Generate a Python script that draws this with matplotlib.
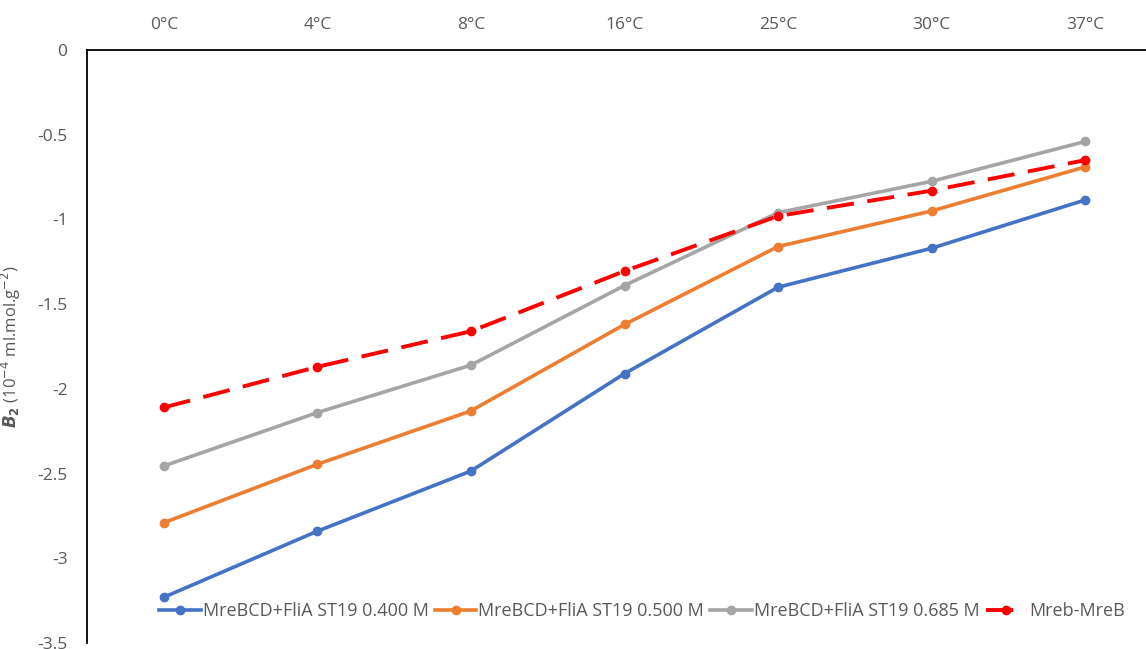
import numpy as np
import matplotlib
matplotlib.use("Agg")
import matplotlib.pyplot as plt

plt.rcParams.update({"font.family": ["Open Sans", "DejaVu Sans"], "mathtext.fontset": "dejavusans"})

temps = ["0°C", "4°C", "8°C", "16°C", "25°C", "30°C", "37°C"]
b2_0400 = [-3.23, -2.84, -2.485, -1.91, -1.40, -1.17, -0.885]
b2_0500 = [-2.79, -2.445, -2.13, -1.62, -1.16, -0.95, -0.69]
b2_0685 = [-2.455, -2.14, -1.86, -1.39, -0.96, -0.775, -0.54]
b2_mreb = [-2.11, -1.87, -1.66, -1.305, -0.98, -0.83, -0.65]

GREY = "#595959"
fig = plt.figure(figsize=(11.46, 6.49), dpi=100)
# plot area runs past the right edge, like the cropped original
ax = fig.add_axes([87 / 1146, 1 - 643 / 649, 1075 / 1146, 593 / 649])
x = np.arange(len(temps))

ax.plot(x, b2_0400, color="#4472C4", lw=2.6, marker="o", ms=6, label="MreBCD+FliA ST19 0.400 M", zorder=3)
ax.plot(x, b2_0500, color="#ED7D31", lw=2.6, marker="o", ms=6, label="MreBCD+FliA ST19 0.500 M", zorder=3)
ax.plot(x, b2_0685, color="#A5A5A5", lw=2.6, marker="o", ms=6, label="MreBCD+FliA ST19 0.685 M", zorder=3)
ax.plot(x, b2_mreb, color="#FF0000", lw=2.8, ls=(0, (7, 3.5)), marker="o", ms=6, label="Mreb-MreB", zorder=4)

ax.set_xlim(-0.5, len(temps) - 0.5)
ax.set_ylim(-3.5, 0)
ax.set_yticks(np.arange(-3.5, 0.01, 0.5))
ax.set_yticklabels(["-3.5", "-3", "-2.5", "-2", "-1.5", "-1", "-0.5", "0"])
ax.set_xticks(x)
ax.set_xticklabels(temps)
ax.xaxis.tick_top()
ax.tick_params(axis="both", length=0, labelsize=12.5, colors=GREY, pad=14)
ax.tick_params(axis="x", pad=12)
for s in ["right", "bottom"]:
    ax.spines[s].set_visible(False)
for s in ["left", "top"]:
    ax.spines[s].set_color("black")
    ax.spines[s].set_linewidth(1.3)

ax.set_ylabel(r"$\mathbfit{B}_\mathbf{2}$ (10$^{-4}$ ml.mol.g$^{-2}$)", fontsize=12, color=GREY, labelpad=10)

fig.legend(loc="center", bbox_to_anchor=(642 / 1146, 1 - 611 / 649), ncol=4, frameon=False,
           fontsize=13, labelcolor=GREY, handlelength=2.3, handletextpad=0.1, columnspacing=0.35,
           borderpad=0, borderaxespad=0)

fig.savefig("out.png", dpi=100, facecolor="white")
